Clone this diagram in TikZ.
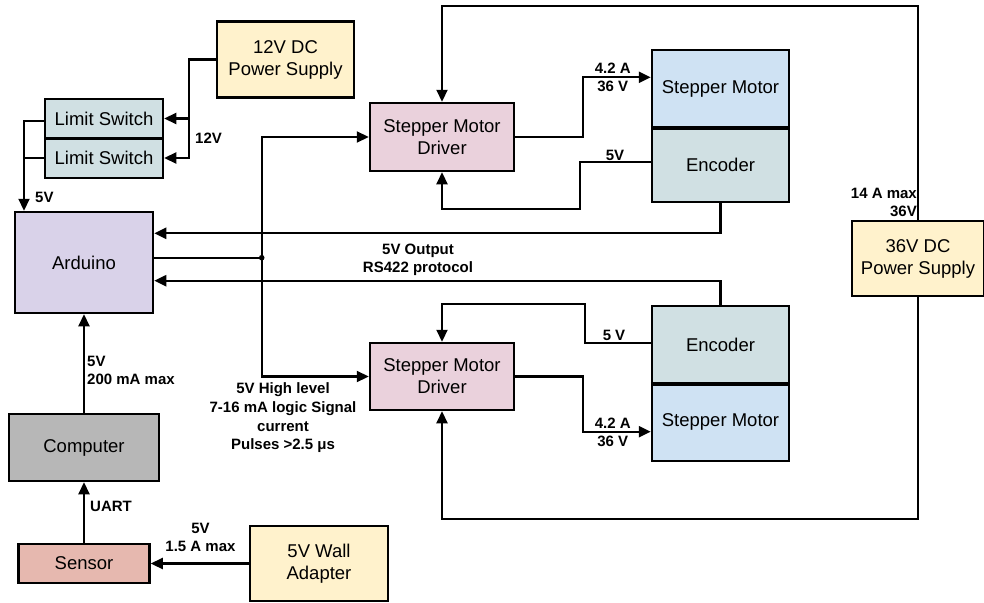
\documentclass[tikz,border=0pt]{standalone}
\usepackage{fontspec}
\setmainfont{Liberation Sans}
\usetikzlibrary{arrows.meta}
\definecolor{cream}{HTML}{FFF2CC}
\definecolor{cyanl}{HTML}{D0E0E3}
\definecolor{bluel}{HTML}{CFE2F3}
\definecolor{pinkl}{HTML}{EAD1DC}
\definecolor{purpl}{HTML}{D9D2E9}
\definecolor{greyd}{HTML}{B7B7B7}
\definecolor{redl}{HTML}{E6B8AF}
\tikzset{
  blk/.style={draw=black, line width=2.5pt, inner sep=0pt, align=center,
    font=\fontsize{18.5}{22}\selectfont},
  conn/.style={line width=2.2pt},
  arr/.style={line width=2.2pt, -{Triangle[length=12pt,width=11pt]}},
  lbl/.style={font=\fontsize{15}{18}\selectfont\bfseries, inner sep=0pt}
}
\begin{document}
\begin{tikzpicture}[x=1pt,y=-1pt]
\useasboundingbox[fill=white] (0,0) rectangle (984,602);
% boxes
\node[blk, fill=cream, minimum width=137pt, minimum height=75.5pt] (ps12) at (285.5,59.5) {12V DC\\Power Supply};
\node[blk, fill=cyanl, minimum width=118pt, minimum height=39.5pt] (ls1) at (104,118.5) {Limit Switch};
\node[blk, fill=cyanl, minimum width=118pt, minimum height=39.5pt] (ls2) at (104,158) {Limit Switch};
\node[blk, fill=purpl, minimum width=138pt, minimum height=101pt] (ard) at (84,262.5) {Arduino};
\node[blk, fill=greyd, minimum width=150pt, minimum height=67pt] (comp) at (84,447.5) {Computer};
\node[blk, fill=redl, minimum width=131pt, minimum height=39pt] (sens) at (84,563.5) {Sensor};
\node[blk, fill=cream, minimum width=138pt, minimum height=75pt] (wall) at (319,563.5) {5V Wall\\Adapter};
\node[blk, fill=pinkl, minimum width=144pt, minimum height=68pt] (drv1) at (442,137) {Stepper Motor\\Driver};
\node[blk, fill=pinkl, minimum width=144pt, minimum height=67pt] (drv2) at (442,376.5) {Stepper Motor\\Driver};
\node[blk, fill=bluel, minimum width=137pt, minimum height=77pt] (mot1) at (720.5,88.5) {Stepper Motor};
\node[blk, fill=cyanl, minimum width=137pt, minimum height=75pt] (enc1) at (720.5,164.5) {Encoder};
\node[blk, fill=cyanl, minimum width=137pt, minimum height=77pt] (enc2) at (720.5,344.5) {Encoder};
\node[blk, fill=bluel, minimum width=137pt, minimum height=78pt] (mot2) at (720.5,422) {Stepper Motor};
\node[blk, fill=cream, minimum width=132pt, minimum height=75pt] (ps36) at (918,258.5) {36V DC\\Power Supply};
\draw[line width=4.2pt] (mot1.south west) -- (mot1.south east);
\draw[line width=4.2pt] (enc2.south west) -- (enc2.south east);
% coordinates
\coordinate (x12) at (189,0);
\coordinate (xls) at (24,0);
\coordinate (jn) at (261.7,257.7);
\coordinate (e1c) at (580,209);
\coordinate (e2c) at (585,304);
\coordinate (tl) at (442,6);
\coordinate (bl) at (442,519);
% 12V supply to limit switches
\draw[arr] (ps12.west) -| (x12 |- ls2.east) -- (ls2.east);
\draw[arr] (x12 |- ls1.east) -- (ls1.east);
% limit switches to Arduino
\draw[arr] ([yshift=-2.5pt]ls1.west) -| (xls |- ard.north);
\draw[conn] (ls2.west) -- (xls |- ls2.west);
% Arduino connections
\draw[arr] (enc1.south) |- ([yshift=29.2pt]ard.east);
\draw[arr] (enc2.north) |- ([yshift=-18.2pt]ard.east);
\draw[conn] ([yshift=4.8pt]ard.east) -- (jn);
\fill (jn) circle (2.8pt);
\draw[arr] (jn) |- (drv1.west);
\draw[arr] (jn) |- (drv2.west);
\draw[arr] (comp.north) -- (ard.south);
\draw[arr] (sens.north) -- (comp.south);
\draw[arr] (wall.west) -- (sens.east);
% drivers and motors
\draw[arr] (drv1.east) -- ++(67.7,0) |- ([yshift=11.2pt]mot1.west);
\draw[arr] ([yshift=2.2pt]enc1.west) -| (e1c) -| (drv1.south);
\draw[arr] (drv2.east) -- ++(67.7,0) |- ([yshift=-9.7pt]mot2.west);
\draw[arr] ([yshift=1.8pt]enc2.west) -| (e2c) -| (drv2.north);
% 36V supply loops
\draw[arr] (ps36.north) |- (tl) -- (drv1.north);
\draw[arr] (ps36.south) |- (bl) -- (drv2.south);
% labels
\node[lbl, anchor=west] (l12) at (195,138) {12V};
\node[lbl, anchor=west] (l5a) at (35,197) {5V};
\node[lbl, anchor=west, align=left] (lard) at (87,370.5) {5V\\200 mA max};
\node[lbl, anchor=west] (luart) at (90,506) {UART};
\node[lbl, align=center] (lwall) at (200.5,537.5) {5V\\1.5 A max};
\node[lbl, align=center, font=\fontsize{15}{18.9}\selectfont\bfseries] (lsig) at (283,417.7) {5V High level\\7-16 mA logic Signal\\current\\Pulses >2.5 μs};
\node[lbl, align=center] (lrs) at (418,259.5) {5V Output\\RS422 protocol};
\node[lbl, align=center] (lm1) at (612.7,77.2) {4.2 A\\36 V};
\node[lbl] (le1) at (615,155) {5V};
\node[lbl] (le2) at (614,335) {5 V};
\node[lbl, align=center] (lm2) at (612.7,432.5) {4.2 A\\36 V};
\node[lbl, align=right, anchor=east] (l36) at (917,202) {14 A max\\36V};
\end{tikzpicture}
\end{document}
